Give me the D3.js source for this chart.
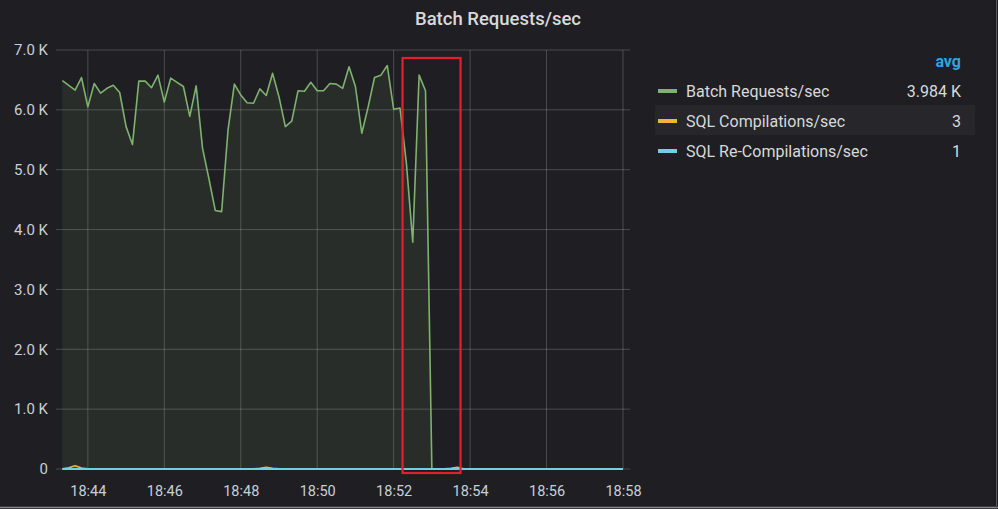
<!DOCTYPE html>
<html><head><meta charset="utf-8">
<script src="https://cdn.jsdelivr.net/npm/d3@7"></script>
<style>
html,body{margin:0;padding:0;background:#1f1f23;}
svg{display:block;font-family:Roboto,"Noto Sans",sans-serif;}
</style></head>
<body>
<svg id="chart" width="998" height="509"></svg>
<script>
// ---- data ----
const title = "Batch Requests/sec";
const startTime = "18:43:20";   // first sample
const stepSeconds = 10;
const seriesNames = ["Batch Requests/sec", "SQL Compilations/sec", "SQL Re-Compilations/sec"];
const seriesColors = ["#7eb26d", "#eab839", "#6ed0e0"];
const legendAvg = ["3.984 K", "3", "1"];
const batchRequests = [6490,6410,6330,6540,6050,6440,6280,6360,6410,6290,
  5720,5420,6480,6480,6370,6580,6130,6530,6460,6390,
  5890,6400,5360,4850,4320,4300,5660,6430,6250,6120,
  6110,6350,6240,6610,6220,5720,5810,6320,6310,6460,
  6320,6320,6440,6430,6360,6720,6390,5610,6050,6540,
  6580,6740,6010,6030,5110,3790,6580,6320,0];
const sqlCompilations = [2,20,55,15,2,2,3,2,2,2, 2,2,3,2,2,2,2,3,2,2,
  2,2,2,3,2,2,2,2,2,2, 3,12,28,10,2,2,2,2,3,2, 2,2,2,2,2,3,2,2,2,2,
  2,2,2,2,3,2,2,2,2,2, 2,10,30,5,2,2,2,3,2,2, 2,2,2,2,3,2,2,2,2,2, 2,2,3,2,2,2,2,2,2];
const sqlReCompilations = [1,1,1,1,0,1,1,1,1,1, 1,1,1,0,1,1,1,1,1,1, 1,2,1,1,1,1,1,1,0,1,
  1,1,1,2,1,1,1,1,1,1, 1,1,1,1,1,1,0,1,1,1, 1,1,2,1,1,1,1,1,1,1, 1,1,1,1,1,0,1,1,1,1,
  1,1,1,1,1,2,1,1,1,1, 1,1,1,1,0,1,1,1,1];
const yTicks = [0,1000,2000,3000,4000,5000,6000,7000];
const xTickTimes = ["18:44","18:46","18:48","18:50","18:52","18:54","18:56","18:58"];
const rangeStart = "18:43:10", rangeEnd = "18:58:11";
const highlightStart = "18:52:14", highlightEnd = "18:53:45";

// ---- helpers ----
const parse = s => { const p = s.split(":").map(Number); return new Date(2020,0,1,p[0],p[1],p[2]||0); };
const t0 = parse(startTime);
const toPts = arr => arr.map((v,i)=>({t:new Date(t0.getTime()+i*stepSeconds*1000), v}));

const svg = d3.select("#chart");
const W = 998, H = 509;
svg.append("rect").attr("width",W).attr("height",H).attr("fill","#1f1f23");
svg.append("line").attr("x1",0).attr("x2",W).attr("y1",H-1.5).attr("y2",H-1.5).attr("stroke","#8a8a8e").attr("stroke-width",1.5);
svg.append("line").attr("x1",W-1.5).attr("x2",W-1.5).attr("y1",0).attr("y2",H).attr("stroke","#5a5a5e").attr("stroke-width",1);

const plot = {left:56, right:630, top:50, bottom:469};
const x = d3.scaleTime().domain([parse(rangeStart), parse(rangeEnd)]).range([plot.left, plot.right]);
const y = d3.scaleLinear().domain([0,7000]).range([plot.bottom, plot.top]);

// title
svg.append("text").attr("x",498).attr("y",25).attr("text-anchor","middle")
  .attr("fill","#d8d9da").attr("font-size",18.5).attr("font-weight",500).text(title);

// grid
const g = svg.append("g");
g.selectAll("line.h").data(yTicks).join("line")
  .attr("x1",plot.left).attr("x2",plot.right).attr("y1",d=>y(d)).attr("y2",d=>y(d))
  .attr("stroke","#ffffff").attr("stroke-opacity",0.2);
g.selectAll("line.v").data(xTickTimes).join("line")
  .attr("x1",d=>x(parse(d))).attr("x2",d=>x(parse(d))).attr("y1",plot.top).attr("y2",plot.bottom)
  .attr("stroke","#ffffff").attr("stroke-opacity",0.2);

// y axis labels
const fmtY = v => v===0 ? "0" : (v/1000).toFixed(1)+" K";
const yAxis = d3.axisLeft(y).tickValues(yTicks).tickFormat(fmtY).tickSize(0).tickPadding(0);
const ya = svg.append("g").attr("transform",`translate(${plot.left-8},0)`).call(yAxis);
ya.select(".domain").remove();
ya.selectAll("text").attr("fill","#c7d0d9").attr("font-size",15).attr("font-family","Roboto");

// x axis labels
const xAxis = d3.axisBottom(x).tickValues(xTickTimes.map(parse)).tickFormat(d3.timeFormat("%H:%M")).tickSize(0).tickPadding(0);
const xa = svg.append("g").attr("transform",`translate(0,${plot.bottom+27})`).call(xAxis);
xa.select(".domain").remove();
xa.selectAll("text").attr("fill","#c7d0d9").attr("font-size",14.5).attr("font-family","Roboto").attr("dy","0");

// series
const allSeries = [batchRequests, sqlCompilations, sqlReCompilations].map(toPts);
const area = d3.area().x(d=>x(d.t)).y0(y(0)).y1(d=>y(d.v));
const line = d3.line().x(d=>x(d.t)).y(d=>y(d.v));
allSeries.forEach((pts,i)=>{
  svg.append("path").datum(pts).attr("d",area).attr("fill",seriesColors[i]).attr("fill-opacity",0.1);
});
const widths = [1.6,1.6,2];
allSeries.forEach((pts,i)=>{
  svg.append("path").datum(pts).attr("d",line).attr("fill","none")
    .attr("stroke",seriesColors[i]).attr("stroke-width",widths[i]).attr("stroke-linejoin","round");
});

// highlight box
svg.append("rect").attr("x",x(parse(highlightStart))).attr("y",58)
  .attr("width",x(parse(highlightEnd))-x(parse(highlightStart))).attr("height",415)
  .attr("fill","none").attr("stroke","#e0212b").attr("stroke-width",2.2);

// legend
const lg = svg.append("g");
lg.append("rect").attr("x",655).attr("y",105).attr("width",320).attr("height",30).attr("fill","#26262b");
lg.append("text").attr("x",961).attr("y",67).attr("text-anchor","end").attr("fill","#33a2e5")
  .attr("font-size",16).attr("font-weight",700).text("avg");
seriesNames.forEach((n,i)=>{
  const cy = 91 + i*30;
  lg.append("rect").attr("x",658).attr("y",cy-2).attr("width",19).attr("height",4).attr("fill",seriesColors[i]);
  lg.append("text").attr("x",686).attr("y",cy+5.5).attr("fill","#d8d9da").attr("font-size",16).text(n);
  lg.append("text").attr("x",961).attr("y",cy+5.5).attr("text-anchor","end").attr("fill","#d8d9da").attr("font-size",16).text(legendAvg[i]);
});
</script>
</body></html>
